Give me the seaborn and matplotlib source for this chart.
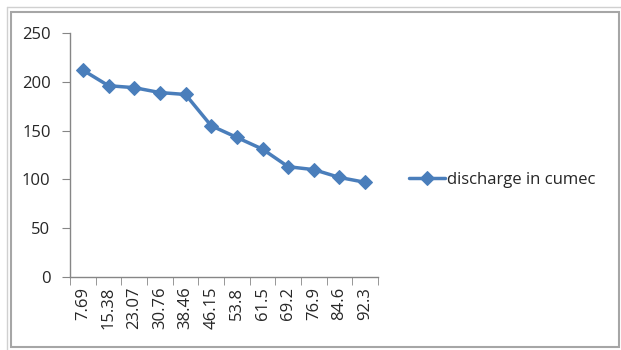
import matplotlib
matplotlib.use("Agg")
import matplotlib.pyplot as plt
import seaborn as sns
import pandas as pd
from matplotlib.patches import Rectangle
from matplotlib.lines import Line2D

categories = ["7.69", "15.38", "23.07", "30.76", "38.46", "46.15", "53.8", "61.5", "69.2", "76.9", "84.6", "92.3"]
discharge = [212, 196, 194, 189, 187, 155, 143, 131, 113, 110, 102, 97]
series_name = "discharge in cumec"

sns.set_style("white")
plt.rcParams['font.family'] = ['Open Sans', 'DejaVu Sans']

df = pd.DataFrame({"pos": range(len(categories)), "value": discharge})

fig = plt.figure(figsize=(6.21, 3.5), dpi=100)
W, H = 621.0, 350.0
# faint outer lines
fig.lines.append(Line2D([7 / W, 1.0], [1 - 7 / H, 1 - 7 / H], transform=fig.transFigure,
                        color='#d0d0d0', linewidth=1.0))
fig.lines.append(Line2D([7 / W, 7 / W], [1 - 7 / H, 0.0], transform=fig.transFigure,
                        color='#d0d0d0', linewidth=1.0))
# chart frame
fig.patches.append(Rectangle((11 / W, 1 - 347 / H), (619 - 11) / W, (347 - 12) / H,
                             transform=fig.transFigure, fill=False,
                             edgecolor='#a6a6a6', linewidth=1.5))

ax = fig.add_axes([70 / W, 1 - 277 / H, (378 - 70) / W, (277 - 33) / H])
color = '#4a7ebb'
sns.lineplot(data=df, x="pos", y="value", ax=ax, color=color, linewidth=2.5,
             marker='D', markersize=7.5, markeredgecolor=color, label=series_name)

ax.set_xlim(-0.5, len(categories) - 0.5)
ax.set_ylim(0, 250)
ax.set_yticks(range(0, 251, 50))
ax.set_xticks(range(len(categories)))
ax.set_xticklabels(categories, rotation=90, fontsize=12)
ax.set_xticks([i - 0.5 for i in range(len(categories) + 1)], minor=True)
ax.tick_params(axis='x', which='major', length=0, pad=7)
ax.tick_params(axis='x', which='minor', length=6, color='#868686', direction='out', bottom=True)
ax.tick_params(axis='y', length=6, color='#868686', direction='out', left=True, labelsize=12, pad=8)
ax.set_xlabel("")
ax.set_ylabel("")
for s in ['top', 'right']:
    ax.spines[s].set_visible(False)
for s in ['left', 'bottom']:
    ax.spines[s].set_color('#868686')
    ax.spines[s].set_linewidth(1.0)

ax.legend(loc='center left', bbox_to_anchor=(402 / W, 1 - 180 / H), bbox_transform=fig.transFigure,
          frameon=False, fontsize=12, handlelength=2.2, handletextpad=0.1, borderaxespad=0)

fig.savefig("out.png", dpi=100)
